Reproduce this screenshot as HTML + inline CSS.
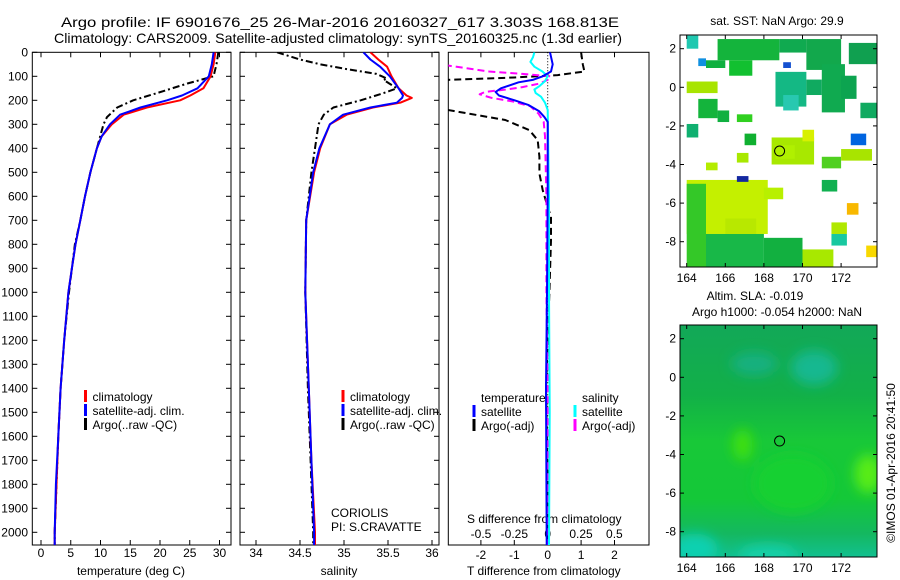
<!DOCTYPE html>
<html><head><meta charset="utf-8">
<style>
html,body{margin:0;padding:0;background:#fff;}
svg{display:block;font-family:"Liberation Sans",sans-serif;}
text{font-size:12px;fill:#000;}
</style></head>
<body>
<svg id="chart" width="900" height="580" viewBox="0 0 900 580" xmlns="http://www.w3.org/2000/svg">
<defs>
<clipPath id="c1"><rect x="32.3" y="52.3" width="198.7" height="492.7"/></clipPath>
<clipPath id="c2"><rect x="240" y="52.3" width="199" height="492.7"/></clipPath>
<clipPath id="c3"><rect x="448.3" y="52.3" width="200.7" height="492.7"/></clipPath>
<clipPath id="cm1"><rect x="680" y="35" width="197" height="232"/></clipPath>
<clipPath id="cm2"><rect x="680" y="325" width="197" height="232"/></clipPath>
<filter id="blur"><feGaussianBlur stdDeviation="6"/></filter>
</defs>
<text x="61" y="27" style="font-size:14px" textLength="558" lengthAdjust="spacingAndGlyphs">Argo profile: IF 6901676_25 26-Mar-2016 20160327_617 3.303S 168.813E</text>
<text x="54" y="43" style="font-size:14px" textLength="568" lengthAdjust="spacingAndGlyphs">Climatology: CARS2009. Satellite-adjusted climatology: synTS_20160325.nc (1.3d earlier)</text>
<g id="g"></g>
</svg>
<script>
// ---- data ----
const tempDepth = [0,50,100,150,180,200,230,260,300,350,400,500,600,700,800,900,1000,1200,1400,1600,1800,2000,2054];
const tempClim  = [29.3,29.0,28.5,27.3,25.1,23.4,17.8,13.9,11.9,10.2,9.4,8.3,7.4,6.6,5.8,5.2,4.6,3.9,3.3,2.9,2.6,2.3,2.3];
const tempSat   = [29.0,28.7,28.2,26.3,23.7,21.2,16.7,13.3,11.6,10.2,9.4,8.3,7.4,6.6,5.8,5.2,4.6,3.9,3.3,2.9,2.5,2.3,2.3];
const argoTDepth = [0,50,80,100,130,170,200,230,270,300,400,500,600,700,800,900,1000,1200,1400,1600,1800,2000,2054];
const argoTemp   = [29.8,29.5,29.2,29.0,24.6,19.5,15.5,12.8,11.1,10.5,9.4,8.3,7.4,6.6,5.7,5.2,4.7,3.9,3.3,2.9,2.6,2.3,2.3];

const salDepth = [0,30,60,100,150,180,190,210,230,260,300,400,500,700,1000,1400,1700,2000,2054];
const salClim  = [35.30,35.39,35.49,35.54,35.62,35.71,35.77,35.64,35.33,35.03,34.84,34.73,34.66,34.57,34.56,34.60,34.63,34.67,34.67];
const salSat   = [35.22,35.30,35.41,35.52,35.62,35.67,35.66,35.60,35.30,34.99,34.84,34.72,34.65,34.57,34.56,34.60,34.63,34.66,34.66];
const argoSDepth = [0,30,50,70,90,110,115,150,170,200,230,260,300,400,500,600,700,1000,1400,1700,2000,2054];
const argoSal    = [34.24,34.50,34.73,35.03,35.37,35.49,35.45,35.60,35.45,35.19,34.88,34.77,34.71,34.67,34.63,34.60,34.57,34.56,34.59,34.62,34.65,34.65];

const dTArgoDepth = [0,50,80,95,105,115,240,282,324,366,435,505,574,644,686,783,1000,1400,1800,2054];
const dTArgo      = [1.0,1.05,1.1,0.3,-1.0,-3.0,-3.0,-1.27,-0.55,-0.3,-0.25,-0.25,-0.15,0.0,0.1,0.1,0.05,-0.05,0.0,0.0];
const dTSatDepth = [0,50,80,100,115,125,150,165,180,200,220,245,270,290,600,1000,1400,2054];
const dTSat      = [0.07,0.15,0.1,-0.15,-0.45,-0.87,-1.4,-1.56,-1.46,-0.99,-0.57,-0.26,-0.1,0.0,0.0,-0.02,-0.05,-0.03];
const dSArgoDepth = [0,55,80,90,100,115,130,145,155,165,175,190,205,225,255,290,350,600,1000,1400,2054];
const dSArgo      = [-1.0,-0.75,-0.44,-0.19,0.02,0.0,-0.06,-0.19,-0.31,-0.47,-0.51,-0.42,-0.26,-0.13,-0.07,-0.03,-0.02,-0.01,-0.01,0.0,0.0];
const dSSatDepth = [0,20,40,60,80,100,120,140,155,170,185,210,240,600,1000,1500,2054];
const dSSat      = [-0.1,-0.11,-0.13,-0.1,-0.04,0.0,-0.02,-0.06,-0.1,-0.09,-0.05,-0.02,0.0,0.01,0.01,0.015,0.01];

const depthTicks = [0,100,200,300,400,500,600,700,800,900,1000,1100,1200,1300,1400,1500,1600,1700,1800,1900,2000];
const tempTicks = [0,5,10,15,20,25,30];
const salTicks = [34,34.5,35,35.5,36];
const salTickLabels = ["34","34.5","35","35.5","36"];
const dTTicks = [-2,-1,0,1,2];
const dSTicks = [-0.5,-0.25,0,0.25,0.5];
const dSTickLabels = ["-0.5","-0.25","0","0.25","0.5"];
const latTicks = [2,0,-2,-4,-6,-8];
const lonTicks = [164,166,168,170,172];

// SST patches: [lon0, lat0, lon1, lat1, color]
const sstPatches = [
 [165.6,1.4,168.8,2.5,"#14b43c"],[168.8,1.8,170.2,2.5,"#10aa50"],[170.2,0.9,172.0,2.5,"#12a84c"],
 [164.0,2.0,164.6,2.68,"#20c8b0"],[166.2,0.6,167.4,1.4,"#12c030"],[165.0,1.0,166.0,1.4,"#10b040"],
 [168.6,-1.0,170.2,0.8,"#14b884"],[169.0,-1.2,169.8,-0.4,"#28c8b0"],[170.2,-0.4,171.0,0.4,"#10aa60"],
 [171.0,-1.3,172.2,1.2,"#10aa50"],[172.0,-0.6,172.8,0.6,"#0ca450"],[173.0,-1.6,173.9,-0.8,"#10aa60"],
 [172.4,1.2,173.9,2.3,"#10a050"],
 [164.0,-0.3,165.6,0.3,"#a8e400"],[164.6,-1.6,165.6,-0.6,"#14b43c"],[165.6,-1.8,166.2,-1.2,"#10b040"],
 [164.0,-2.6,164.6,-1.9,"#10b070"],[166.6,-1.4,167.4,-1.8,"#30d020"],
 [167.0,-2.4,167.6,-3.0,"#10b030"],[168.4,-2.6,170.6,-4.0,"#a8e800"],[168.6,-3.0,169.6,-3.7,"#b0f000"],
 [166.6,-3.4,167.2,-3.9,"#a8e800"],[165.0,-3.9,165.6,-4.3,"#b4ec00"],[171.0,-3.6,172.0,-4.2,"#50d020"],
 [172.0,-3.2,173.6,-3.8,"#a8e400"],[172.5,-2.4,173.3,-3.0,"#0064e0"],[170.0,-2.2,170.6,-2.8,"#d8f000"],
 [164.0,-4.8,168.2,-7.6,"#c4f000"],[164.0,-5.0,165.0,-9.33,"#34c828"],[165.0,-7.6,168.0,-9.33,"#18b848"],
 [166.0,-6.8,167.6,-7.6,"#b8e800"],[168.0,-7.8,170.0,-9.33,"#12b040"],[170.0,-8.4,171.6,-9.33,"#a8e800"],
 [172.3,-6.0,172.9,-6.6,"#f8b800"],[173.3,-8.2,173.9,-8.8,"#f8d800"],[171.5,-7.0,172.3,-7.6,"#b0e800"],
 [171.5,-7.6,172.3,-8.2,"#18c8a0"],[171.0,-4.8,171.8,-5.4,"#10b050"],[166.6,-4.6,167.2,-4.9,"#1428a0"],
 [164.6,1.1,165.0,1.5,"#1090e0"],[169.0,1.0,169.4,1.3,"#1450d0"],[168.0,-5.2,169.0,-5.8,"#b8f000"]
];
// SLA blobs: [lon, lat, rx(deg), ry(deg), color]
const slaBlobs = [
 [170.6,0.5,1.2,0.9,"#18b890"],[167.5,0.7,1.2,0.6,"#16b080"],[166.9,-3.5,0.5,0.8,"#40e010"],
 [173.4,-5.0,0.7,1.0,"#58ec18"],[164.4,-8.9,1.2,0.8,"#10d0b0"],[168.2,-9.2,1.5,0.5,"#14d0a8"],
 [169.5,-5.5,2.0,1.5,"#16d030"]
];
const argoLon = [168.813];
const argoLat = [-3.303];

// ---- scales ----
const yD = d => 52.3 + d*0.24;
const xT = t => 41 + t*5.95;
const xS = s => 256 + (s-34)*88;
const xdT = v => 547.7 + v*33.4;
const xdS = v => 547.7 + v*133.4;
const mx = lon => 686.7 + (lon-164)*19.3;
const my1 = lat => 87.3 - lat*19.3;
const my2 = lat => 377.3 - lat*19.3;

const NS="http://www.w3.org/2000/svg";
const G=document.getElementById('g');
function el(tag,attrs,parent){const e=document.createElementNS(NS,tag);for(const k in attrs)e.setAttribute(k,attrs[k]);(parent||G).appendChild(e);return e;}
function txt(x,y,s,anchor,parent){const t=el('text',{x:x,y:y,'text-anchor':anchor||'start'},parent);t.textContent=s;return t;}

function line(vals,depths,xf,color,w,dash,clip,name){
  let d='';
  for(let i=0;i<vals.length;i++){d+=(i?'L':'M')+xf(vals[i]).toFixed(1)+','+yD(depths[i]).toFixed(1);}
  const p=el('path',{d:d,fill:'none',stroke:color,'stroke-width':w,'clip-path':'url(#'+clip+')','stroke-linejoin':'round'});
  if(dash)p.setAttribute('stroke-dasharray',dash);
  
  
}

function frame(x0,x1,name){
  const r=el('rect',{x:x0,y:52.3,width:x1-x0,height:545-52.3,fill:'none',stroke:'#000','stroke-width':1});
  
  
  depthTicks.forEach(d=>{
    el('line',{x1:x0,x2:x0+5,y1:yD(d),y2:yD(d),stroke:'#000'});
    el('line',{x1:x1,x2:x1-5,y1:yD(d),y2:yD(d),stroke:'#000'});
  });
}
function xticks(ticks,labels,xf,y,name){
  ticks.forEach((v,i)=>{
    const x=xf(v);
    el('line',{x1:x,x2:x,y1:545,y2:540,stroke:'#000'});
    el('line',{x1:x,x2:x,y1:52.3,y2:57.3,stroke:'#000'});
    const t=txt(x,y,labels[i],'middle');
    
    
  });
}

// Panel 1
frame(32.3,231,'temperature-panel');
depthTicks.forEach(d=>{const t=txt(28,yD(d)+4,String(d),'end');
  
  });
xticks(tempTicks,tempTicks.map(String),xT,557,'temperature-tick-label');
let a=txt(131,575,'temperature (deg C)','middle');


line(argoTemp,argoTDepth,xT,'#000',2,'7,3,2,3','c1','argo-temperature-line');
line(tempClim,tempDepth,xT,'#f00',2,null,'c1','climatology-temperature-line');
line(tempSat,tempDepth,xT,'#00f',2,null,'c1','satellite-temperature-line');

// Panel 2
frame(240,439,'salinity-panel');
xticks(salTicks,salTickLabels,xS,557,'salinity-tick-label');
a=txt(339,575,'salinity','middle');


line(argoSal,argoSDepth,xS,'#000',2,'7,3,2,3','c2','argo-salinity-line');
line(salClim,salDepth,xS,'#f00',2,null,'c2','climatology-salinity-line');
line(salSat,salDepth,xS,'#00f',2,null,'c2','satellite-salinity-line');

// Panel 3
const r3=el('rect',{x:448.3,y:52.3,width:200.7,height:492.7,fill:'none',stroke:'#000'});


dTTicks.forEach(v=>{const x=xdT(v);
  el('line',{x1:x,x2:x,y1:545,y2:540,stroke:'#000'});
  if(v!==0)el('line',{x1:x,x2:x,y1:52.3,y2:57.3,stroke:'#000'});
  const t=txt(x,559,String(v),'middle');
  
  });
dSTicks.forEach((v,i)=>{const t=txt(xdS(v),538,dSTickLabels[i],'middle');
  
  });
el('line',{x1:547.7,x2:547.7,y1:52.3,y2:545,stroke:'#000','stroke-dasharray':'1,2','stroke-width':1});
a=txt(467,523,'S difference from climatology');


a=txt(467,575,'T difference from climatology');


line(dTArgo,dTArgoDepth,xdT,'#000',2,'7,4','c3','argo-t-diff-line');
line(dSArgo,dSArgoDepth,xdS,'#f0f',2,'7,4','c3','argo-s-diff-line');
line(dSSat,dSSatDepth,xdS,'#0ff',2,null,'c3','satellite-s-diff-line');
line(dTSat,dTSatDepth,xdT,'#00f',2,null,'c3','satellite-t-diff-line');

// legends
function leg(x,y,color,label,name){
  el('line',{x1:x,x2:x,y1:y-11,y2:y+1,stroke:color,'stroke-width':3});
  const t=txt(x+7,y,label);
  
  
}
leg(85.5,401,'#f00','climatology','legend-climatology');
leg(85.5,415,'#00f','satellite-adj. clim.','legend-satellite');
leg(85.5,429,'#000','Argo(..raw -QC)','legend-argo');
leg(343,401,'#f00','climatology','legend-climatology-sal');
leg(343,415,'#00f','satellite-adj. clim.','legend-satellite-sal');
leg(343,429,'#000','Argo(..raw -QC)','legend-argo-sal');
a=txt(481,402,'temperature');
a=txt(582,402,'salinity');
leg(474,416,'#00f','satellite','legend-t-satellite');
leg(474,430,'#000','Argo(-adj)','legend-t-argo');
leg(575,416,'#0ff','satellite','legend-s-satellite');
leg(575,430,'#f0f','Argo(-adj)','legend-s-argo');
a=txt(331,517,'CORIOLIS');
a=txt(331,531,'PI: S.CRAVATTE');

// ---- maps ----
function mapAxes(top,bot,myf,name){
  const r=el('rect',{x:680,y:top,width:197,height:bot-top,fill:'none',stroke:'#000'});
  
  
  latTicks.forEach(l=>{const y=myf(l);
    el('line',{x1:680,x2:684,y1:y,y2:y,stroke:'#000'});
    el('line',{x1:877,x2:873,y1:y,y2:y,stroke:'#000'});
    const t=txt(676,y+4,String(l),'end');
    
    });
  lonTicks.forEach(l=>{const x=mx(l);
    el('line',{x1:x,x2:x,y1:bot,y2:bot-4,stroke:'#000'});
    el('line',{x1:x,x2:x,y1:top,y2:top+4,stroke:'#000'});
    const t=txt(x,bot+15,String(l),'middle');
    
    });
}
// SST map
const sst=el('g',{'clip-path':'url(#cm1)'});


el('rect',{x:680,y:35,width:197,height:232,fill:'#fff'},sst);
sstPatches.forEach(p=>{
  const x0=mx(p[0]),x1=mx(p[2]),y0=my1(p[1]),y1=my1(p[3]);
  const r=el('rect',{x:Math.min(x0,x1),y:Math.min(y0,y1),width:Math.abs(x1-x0),height:Math.abs(y1-y0),fill:p[4]},sst);
  
  
});
mapAxes(35,267,my1,'sst-map-frame');
const c1=el('circle',{cx:mx(argoLon[0]),cy:my1(argoLat[0]),r:5,fill:'none',stroke:'#000'});


a=txt(777,25,'sat. SST: NaN Argo: 29.9','middle');

// SLA map
const sla=el('g',{'clip-path':'url(#cm2)'});


const grad=el('linearGradient',{id:'slag',x1:0,y1:0,x2:0,y2:1},document.querySelector('defs'));
[['0','#12a858'],['0.3','#12b048'],['0.5','#18c838'],['0.75','#14c838'],['0.9','#14b860'],['1','#12c090']].forEach(s=>el('stop',{offset:s[0],'stop-color':s[1]},grad));
el('rect',{x:680,y:325,width:197,height:232,fill:'url(#slag)'},sla);
const bg=el('g',{filter:'url(#blur)'},sla);
slaBlobs.forEach(b=>{
  const e=el('ellipse',{cx:mx(b[0]),cy:my2(b[1]),rx:b[2]*19.3,ry:b[3]*19.3,fill:b[4]},bg);
  
  
});
mapAxes(325,557,my2,'sla-map-frame');
const c2=el('circle',{cx:mx(argoLon[0]),cy:my2(argoLat[0]),r:5,fill:'none',stroke:'#000'});


a=txt(755,300,'Altim. SLA: -0.019','middle');
a=txt(777,316,'Argo h1000: -0.054 h2000: NaN','middle');
a=txt(0,0,'©IMOS 01-Apr-2016 20:41:50','middle');
a.setAttribute('transform','translate(895,463) rotate(-90)');


</script>
</body></html>
